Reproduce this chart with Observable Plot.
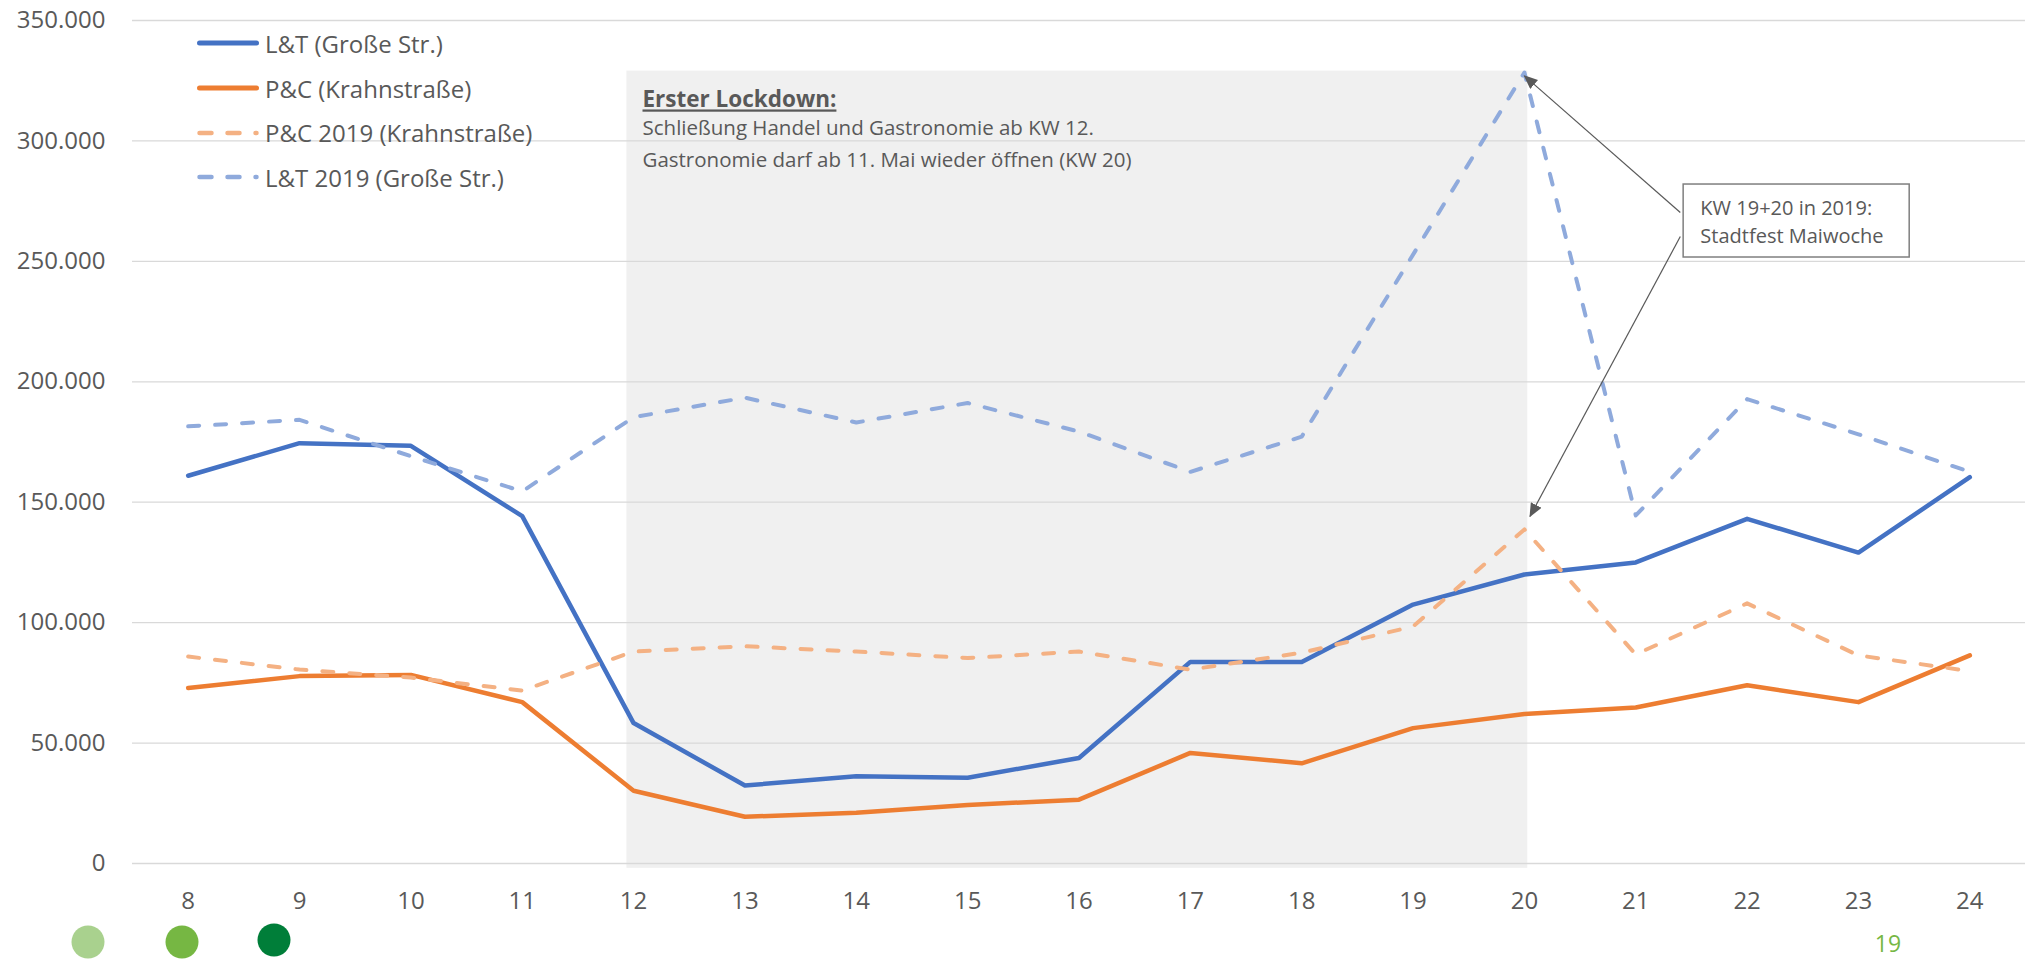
<!DOCTYPE html>
<html>
<head>
<meta charset="utf-8">
<script src="https://cdn.jsdelivr.net/npm/d3@7"></script>
<script src="https://cdn.jsdelivr.net/npm/@observablehq/plot@0.6"></script>
<style>
  html, body { margin: 0; padding: 0; background: #ffffff; }
  #page { position: relative; width: 2037px; height: 960px; background: #ffffff; overflow: hidden; font-family: "Open Sans", sans-serif; }
  #page > svg.chart { position: absolute; left: 0; top: 0; }
  #legend { position: absolute; left: 197px; top: 21px; color: #595959; font-size: 24px; }
  #legend .row { height: 44.7px; display: flex; align-items: center; white-space: nowrap; }
  #legend .row span { margin-left: 6px; }
  #deco { position: absolute; left: 0; top: 0; pointer-events: none; }
</style>
</head>
<body>
<div id="page"></div>
<script>
// ---- Data ----
const weeks = [8, 9, 10, 11, 12, 13, 14, 15, 16, 17, 18, 19, 20, 21, 22, 23, 24];
const seriesNames = ["L&T (Große Str.)", "P&C (Krahnstraße)", "P&C 2019 (Krahnstraße)", "L&T 2019 (Große Str.)"];
const ltGrosse2020 = [161000, 174500, 173400, 144200, 58300, 32400, 36200, 35600, 43800, 83700, 83700, 107500, 120000, 125000, 143100, 129100, 160400];
const pcKrahn2020  = [72900, 77800, 78300, 67000, 30200, 19400, 21100, 24300, 26500, 45900, 41600, 56200, 62100, 64800, 74000, 67000, 86400];
const pcKrahn2019  = [85900, 80500, 77200, 71800, 88000, 90200, 88000, 85300, 88000, 80500, 87500, 98400, 138700, 86800, 108000, 86400, 79900];
const ltGrosse2019 = [181500, 184200, 169100, 154500, 185300, 193400, 183100, 191200, 179300, 162600, 177200, 252800, 328400, 144500, 192800, 178200, 162600];
const yTicks = [0, 50000, 100000, 150000, 200000, 250000, 300000, 350000];

// annotation content
const lockdownTitle = "Erster Lockdown:";
const lockdownLines = ["Schließung Handel und Gastronomie ab KW 12.", "Gastronomie darf ab 11. Mai wieder öffnen (KW 20)"];
const calloutLines = ["KW 19+20 in 2019:", "Stadtfest Maiwoche"];

// annotation placement (data space)
const lockdownPeriod = [{x1: 11.94, x2: 20.03, y1: -2000, y2: 329000}];
const lockdownTitlePos = [{x: 12.08, y: 313900}];
const lockdownLinePos = [{x: 12.08, y: 302260}, {x: 12.08, y: 288970}];
const calloutBox = [{x1: 21.43, x2: 23.46, y1: 251600, y2: 281900}];
const calloutLinePos = [{x: 21.58, y: 269450}, {x: 21.58, y: 257420}];
const calloutArrows = [
  {x1: 21.40, y1: 270300, x2: 20.00, y2: 327000},
  {x1: 21.40, y1: 260300, x2: 20.05, y2: 144100}
];

// styles
const colors = ["#4472c4", "#ed7d31", "#f4b183", "#8faadc"];
const widths = [4.5, 4.5, 4, 4];
const dashes = [null, null, "11,16", "11,16"];
const valuesList = [ltGrosse2020, pcKrahn2020, pcKrahn2019, ltGrosse2019];

const rows = valuesList.map(vals => weeks.map((w, i) => ({week: w, value: vals[i]})));
const fmt = d => d3.format(",")(d).replace(/,/g, ".");

const textColor = "#595959";

const chart = Plot.plot({
  width: 2037,
  height: 960,
  marginLeft: 132,
  marginRight: 12,
  marginTop: 20,
  marginBottom: 97,
  style: {fontFamily: "Open Sans", fontSize: "24px", color: textColor, background: "transparent"},
  x: {domain: [7.5, 24.5]},
  y: {domain: [0, 350000]},
  marks: [
    Plot.rect(lockdownPeriod, {x1: "x1", x2: "x2", y1: "y1", y2: "y2", fill: "#f0f0f0"}),
    Plot.ruleY(yTicks, {stroke: "#d9d9d9", strokeWidth: 1.3}),
    Plot.axisY({ticks: yTicks, tickSize: 0, tickPadding: 27, tickFormat: fmt, label: null, fontSize: 24}),
    Plot.axisX({ticks: weeks, tickSize: 0, tickPadding: 28, tickFormat: d => String(d), label: null, fontSize: 24}),
    ...rows.map((r, k) => Plot.line(r, {
      x: "week", y: "value",
      stroke: colors[k], strokeWidth: widths[k],
      strokeDasharray: dashes[k] ?? undefined,
      strokeLinecap: "round", strokeLinejoin: "round"
    })),
    Plot.text(lockdownTitlePos, {x: "x", y: "y", text: () => lockdownTitle, textAnchor: "start", lineAnchor: "bottom", fontSize: 22.5, fontWeight: "bold", fill: textColor}),
    Plot.text(lockdownLinePos, {x: "x", y: "y", text: (d, i) => lockdownLines[i], textAnchor: "start", lineAnchor: "bottom", fontSize: 20.5, fill: textColor}),
    Plot.link(calloutArrows, {x1: "x1", y1: "y1", x2: "x2", y2: "y2", stroke: textColor, strokeWidth: 1.2}),
    Plot.rect(calloutBox, {x1: "x1", x2: "x2", y1: "y1", y2: "y2", fill: "white", stroke: "#7f7f7f", strokeWidth: 1.5}),
    Plot.text(calloutLinePos, {x: "x", y: "y", text: (d, i) => calloutLines[i], textAnchor: "start", lineAnchor: "bottom", fontSize: 20, fill: textColor})
  ]
});
chart.classList.add("chart");

// arrowheads + underline
const sel = d3.select(chart);
const defs = sel.insert("defs", ":first-child");
defs.append("marker")
  .attr("id", "ahead").attr("viewBox", "0 0 14 12")
  .attr("refX", 13).attr("refY", 6)
  .attr("markerWidth", 14).attr("markerHeight", 12)
  .attr("markerUnits", "userSpaceOnUse").attr("orient", "auto")
  .append("path").attr("d", "M0,0L14,6L0,12Z").attr("fill", textColor);
sel.selectAll('g[aria-label="link"] path, g[aria-label="link"] line').attr("marker-end", "url(#ahead)");
sel.selectAll('g[aria-label="text"][font-weight="bold"] text').style("text-decoration", "underline");

const page = document.getElementById("page");
page.appendChild(chart);

// legend
const legend = document.createElement("div");
legend.id = "legend";
seriesNames.forEach((name, k) => {
  const row = document.createElement("div");
  row.className = "row";
  const ns = "http://www.w3.org/2000/svg";
  const s = document.createElementNS(ns, "svg");
  s.setAttribute("width", "62"); s.setAttribute("height", "12");
  const ln = document.createElementNS(ns, "line");
  ln.setAttribute("x1", "2.5"); ln.setAttribute("x2", "59.5");
  ln.setAttribute("y1", "6"); ln.setAttribute("y2", "6");
  ln.setAttribute("stroke", colors[k]);
  ln.setAttribute("stroke-width", k < 2 ? "5" : "4.5");
  ln.setAttribute("stroke-linecap", "round");
  if (dashes[k]) ln.setAttribute("stroke-dasharray", "12,16");
  s.appendChild(ln);
  const t = document.createElement("span");
  t.textContent = name;
  row.appendChild(s); row.appendChild(t);
  legend.appendChild(row);
});
page.appendChild(legend);

// decorative footer: green dots + page number
const deco = d3.select(page).append("svg").attr("id", "deco").attr("width", 2037).attr("height", 960);
const dotColors = ["#a9d18e", "#76b743", "#007e39"];
const dotPos = [[88, 942], [182, 942], [274, 940]];
dotColors.forEach((c, i) => deco.append("circle").attr("cx", dotPos[i][0]).attr("cy", dotPos[i][1]).attr("r", 16.5).attr("fill", c));
deco.append("text").attr("x", 1888).attr("y", 952).attr("text-anchor", "middle")
  .attr("font-family", "Open Sans").attr("font-size", 23).attr("fill", "#76b743").text("19");
</script>
</body>
</html>
